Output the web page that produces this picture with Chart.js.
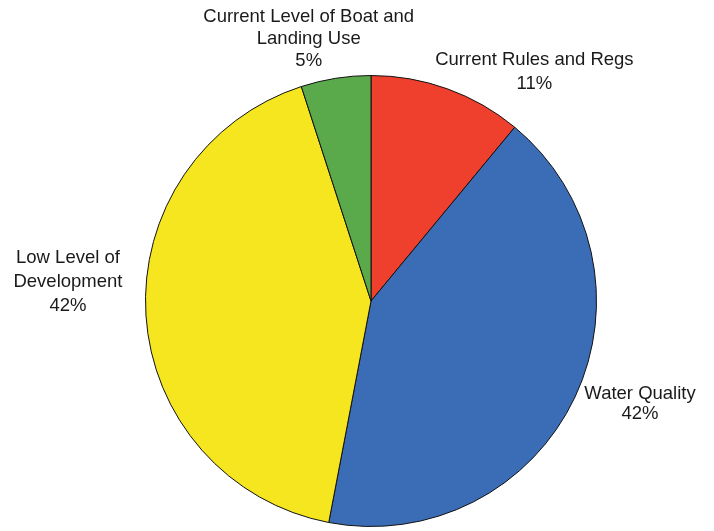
<!DOCTYPE html>
<html>
<head>
<meta charset="utf-8">
<script src="https://cdn.jsdelivr.net/npm/chart.js@4.4.0/dist/chart.umd.min.js"></script>
<style>
  html, body { margin: 0; padding: 0; background: #fff; }
  canvas { display: block; }
</style>
</head>
<body>
<canvas id="pie" width="714" height="531"></canvas>
<script>
const categories = [
  "Current Rules and Regs",
  "Water Quality",
  "Low Level of Development",
  "Current Level of Boat and Landing Use",
];
const percents = [11, 42, 42, 5];
// how each label is broken over lines
const labelLines = [
  ["Current Rules and Regs"],
  ["Water Quality"],
  ["Low Level of", "Development"],
  ["Current Level of Boat and", "Landing Use"],
];
const sliceColors = ["#ef3f2d", "#3b6db7", "#f6e61f", "#5aa94b"];

// label block centre, offset from the rim point at the middle of each arc
const labelLayout = [
  { dx: 87, dy: -17, lineH: 24 },
  { dx: 65, dy: 7, lineH: 20 },
  { dx: -78, dy: -33, lineH: 24 },
  { dx: -27, dy: -39, lineH: 22 },
];

const outsideLabels = {
  id: "outsideLabels",
  afterDatasetsDraw(chart) {
    const ctx = chart.ctx;
    const meta = chart.getDatasetMeta(0);
    ctx.save();
    ctx.font = "18.5px 'Liberation Sans', Arial, sans-serif";
    ctx.fillStyle = "#1a1a1a";
    ctx.textAlign = "center";
    ctx.textBaseline = "middle";
    meta.data.forEach((arc, i) => {
      const mid = (arc.startAngle + arc.endAngle) / 2;
      const lay = labelLayout[i];
      const lines = labelLines[i].concat([percents[i] + "%"]);
      const cx = arc.x + Math.cos(mid) * arc.outerRadius + lay.dx;
      const cy = arc.y + Math.sin(mid) * arc.outerRadius + lay.dy;
      const top = cy - (lines.length - 1) * lay.lineH / 2;
      lines.forEach((t, k) => ctx.fillText(t, cx, top + k * lay.lineH));
    });
    ctx.restore();
  },
};

new Chart(document.getElementById("pie").getContext("2d"), {
  type: "pie",
  data: {
    labels: categories,
    datasets: [
      {
        data: percents,
        backgroundColor: sliceColors,
        borderColor: "#111",
        borderWidth: 1,
      },
    ],
  },
  options: {
    responsive: false,
    animation: false,
    layout: {
      padding: { left: 145, right: 117, top: 75, bottom: 4 },
    },
    plugins: {
      legend: { display: false },
      tooltip: { enabled: false },
    },
  },
  plugins: [outsideLabels],
});
</script>
</body>
</html>
